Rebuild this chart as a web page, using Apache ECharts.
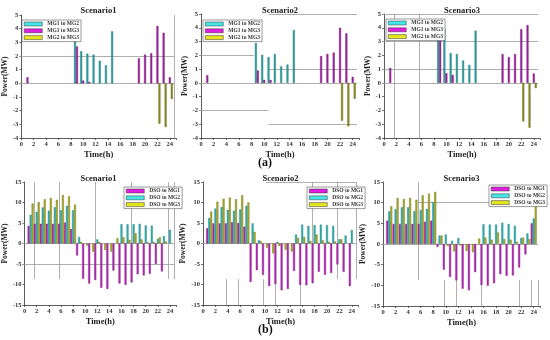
<!DOCTYPE html>
<html><head><meta charset="utf-8">
<script src="https://cdn.jsdelivr.net/npm/echarts@6/dist/echarts.min.js"></script>
<style>html,body{margin:0;padding:0;background:#fff}#c{width:550px;height:340px}</style>
</head><body><div id="c"></div>
<script>
// ---------- DATA ----------
const hours = [1,2,3,4,5,6,7,8,9,10,11,12,13,14,15,16,17,18,19,20,21,22,23,24];
const xTickLabels = [0,2,4,6,8,10,12,14,16,18,20,22,24];
const titles = ['Scenario1','Scenario2','Scenario3'];
const topNames = ['MG1 to MG2','MG1 to MG3','MG2 to MG3'];
const botNames = ['DSO to MG1','DSO to MG2','DSO to MG3'];
const topYTicks = [-4,-3,-2,-1,0,1,2,3,4,5];
const botYTicks = [-15,-10,-5,0,5,10,15];

// (a) Scenario1
const a1_MG1toMG2 = [null,null,null,null,null,null,null,null,3.7,2.35,2.17,2.1,1.65,1.32,3.8,null,null,null,null,null,null,null,null,null];
const a1_MG1toMG3 = [0.45,null,null,null,null,null,null,null,2.7,0.2,0.1,null,null,null,null,null,null,null,1.83,2.1,2.2,4.2,3.7,0.45];
const a1_MG2toMG3 = [null,null,null,null,null,null,null,null,null,null,null,null,null,null,null,null,null,null,null,null,null,-2.95,-3.2,-1.15];
// (a) Scenario2
const a2_MG1toMG2 = [null,null,null,null,null,null,null,null,2.9,2.04,1.87,2.09,1.2,1.33,3.83,null,null,null,null,null,null,null,null,null];
const a2_MG1toMG3 = [0.56,null,null,null,null,null,null,null,0.9,0.22,0.22,null,null,null,null,null,null,null,1.94,2.1,2.2,4.0,3.6,0.44];
const a2_MG2toMG3 = [null,null,null,null,null,null,null,null,null,null,null,null,null,null,null,null,null,null,null,null,null,-2.75,-3.15,-1.15];
// (a) Scenario3
const a3_MG1toMG2 = [null,null,null,null,null,null,null,null,3.9,3.98,2.16,2.09,1.63,1.3,3.79,null,null,null,null,null,null,null,null,null];
const a3_MG1toMG3 = [1.09,null,null,null,null,null,null,null,3.1,0.7,0.58,null,null,null,null,null,null,null,2.09,1.87,2.09,3.9,4.2,0.68];
const a3_MG2toMG3 = [null,null,null,null,null,null,null,null,null,null,null,null,null,null,null,null,null,null,null,null,null,-2.8,-3.25,-0.38];

// (b) Scenario1
const b1_DSOtoMG1 = [4.3,4.8,4.8,4.8,4.8,4.8,5.1,3.5,-2.9,-8.6,-9.75,-8.9,-10.8,-11.1,-6.6,-9.75,-10.1,-9.5,-7.5,-7.8,-7.4,-5.0,-6.8,null];
const b1_DSOtoMG2 = [7.0,7.7,8.8,8.0,8.85,8.1,9.2,8.1,1.6,null,null,1.0,null,null,null,4.7,4.7,4.7,4.8,4.4,4.35,1.15,1.8,3.35];
const b1_DSOtoMG3 = [9.75,10.1,10.8,11.1,10.65,11.8,11.5,9.5,0.4,-0.5,-2.0,0.4,-1.6,-2.0,1.3,1.55,0.9,2.5,1.0,0.3,0.4,1.5,0.5,null];
// (b) Scenario2
const b2_DSOtoMG1 = [3.7,4.9,4.9,4.9,5.2,5.0,4.1,-9.35,-6.5,-7.7,-10.4,-9.9,-11.4,-11.1,-6.7,-10.1,-10.2,-9.7,-6.9,-7.6,-7.2,-5.1,-6.9,-10.4];
const b2_DSOtoMG2 = [6.2,8.5,8.9,8.2,8.0,8.3,9.2,4.9,0.8,null,null,0.4,null,null,2.2,4.6,4.3,4.5,4.6,4.5,4.3,1.05,1.95,3.3];
const b2_DSOtoMG3 = [7.8,10.2,10.9,11.2,10.8,11.8,10.0,2.85,0.6,-1.0,-2.4,-0.65,-1.55,-1.95,1.4,1.6,0.65,2.2,0.8,0.4,0.5,1.05,null,null];
// (b) Scenario3
const b3_DSOtoMG1 = [5.65,4.85,4.85,4.85,4.85,4.85,5.4,5.65,-0.7,-6.2,-8.0,-8.8,-10.8,-11.2,-6.8,-9.9,-10.1,-9.5,-7.3,-7.7,-7.6,-5.7,-2.5,5.0];
const b3_DSOtoMG2 = [7.9,8.45,8.9,8.85,7.95,8.2,8.5,10.1,2.05,2.3,0.8,1.45,null,null,null,4.75,4.7,4.7,5.15,4.85,4.4,1.45,2.55,6.2];
const b3_DSOtoMG3 = [9.1,11.15,10.9,11.15,10.7,11.8,12.2,12.6,2.05,-0.5,-1.8,-0.35,-1.7,-2.0,1.3,1.55,1.05,2.8,1.2,1.05,0.55,1.55,1.2,9.8];

// faint guide lines visible in the original figure: [x1,y1,x2,y2]
const a1_guides = [[0,0,25,0],[0,2,25,2],[25,-4,25,5]];
const a2_guides = [[0,0,25,0],[11,5,25,5],[0,2,8.7,2],[11,1,25,1],[0,-2,11,-2],[11,-3,25,-3]];
const a3_guides = [[0,0,25,0],[0,5,25,5],[0,3,25,3],[0,1,25,1],[2,-4,2,5],[6,-4,6,5]];
const b1_guides = [[0,0,25,0],[0,-5,25,-5],[2,-8.7,2,15],[6,-8.7,6,15],[12,-8.7,12,15],[18,-8.7,18,15],[24,-8.7,24,15],[25,-8.7,25,15]];
const b2_guides = [[0,0,25,0],[10.5,15,25,15],[4,-15,4,-8.7],[6,-15,6,-8.7],[10,-15,10,-8.7],[12,-15,12,-8.7],[16,-15,16,-8.7],[18,-8.7,18,15],[22,-8.7,22,15],[25,-8.7,25,15]];
const b3_guides = [[0,0,25,0],[6,10,25,10],[6,-8.7,6,15],[10,-15,10,-8.7],[12,-15,12,-8.7],[16,-15,16,-8.7],[22,-15,22,-8.7],[24,-15,24,-8.7],[25,-15,25,-8.7]];

// ---------- LAYOUT / STYLE ----------
const SERIF = '"Liberation Serif","DejaVu Serif",serif';
const topColors = [
  {fill:'#2ea3a3', border:'#1d6f6f', legend:'#44e6e6'},
  {fill:'#a323a3', border:'#6c126c', legend:'#e01ee0'},
  {fill:'#8f8f22', border:'#5d5d12', legend:'#e6e61e'}];
const botColors = [
  {fill:'#b52ab5', border:'#7a167a', legend:'#e01ee0'},
  {fill:'#31b3b3', border:'#1f7a7a', legend:'#44e6e6'},
  {fill:'#abab2c', border:'#707014', legend:'#e6e61e'}];

const panels = [
  {grid:{left:21,top:15,width:155,height:123}, y:[-4,5,1], yt:topYTicks, names:topNames, colors:topColors, data:[a1_MG1toMG2,a1_MG1toMG3,a1_MG2toMG3], guides:a1_guides, title:titles[0], leg:{left:22,top:20}, ttop:6},
  {grid:{left:201,top:14,width:158,height:124}, y:[-4,5,1], yt:topYTicks, names:topNames, colors:topColors, data:[a2_MG1toMG2,a2_MG1toMG3,a2_MG2toMG3], guides:a2_guides, title:titles[1], leg:{left:203,top:20}, ttop:6},
  {grid:{left:384,top:14,width:156,height:124}, y:[-4,5,1], yt:topYTicks, names:topNames, colors:topColors, data:[a3_MG1toMG2,a3_MG1toMG3,a3_MG2toMG3], guides:a3_guides, title:titles[2], leg:{left:386,top:19}, ttop:6},
  {grid:{left:21,top:182,width:155,height:123}, y:[-15,15,5], yt:botYTicks, names:botNames, colors:botColors, data:[b1_DSOtoMG1,b1_DSOtoMG2,b1_DSOtoMG3], guides:b1_guides, title:titles[0], leg:{left:124,top:187}, ttop:174},
  {grid:{left:203,top:182,width:155,height:123}, y:[-15,15,5], yt:botYTicks, names:botNames, colors:botColors, data:[b2_DSOtoMG1,b2_DSOtoMG2,b2_DSOtoMG3], guides:b2_guides, title:titles[1], leg:{left:307,top:187}, ttop:174},
  {grid:{left:383,top:182,width:157,height:124}, y:[-15,15,5], yt:botYTicks, names:botNames, colors:botColors, data:[b3_DSOtoMG1,b3_DSOtoMG2,b3_DSOtoMG3], guides:b3_guides, title:titles[2], leg:{left:489,top:185}, ttop:174}
];

const grid=[], xAxis=[], yAxis=[], series=[], legend=[], title=[];
panels.forEach((p,i)=>{
  grid.push(Object.assign({containLabel:false}, p.grid));
  title.push({text:p.title, left:p.grid.left+p.grid.width/2, textAlign:'center', top:p.ttop, padding:0,
    textStyle:{fontFamily:SERIF, fontWeight:'bold', fontSize:8.5, color:'#222'}});
  xAxis.push({type:'value', gridIndex:i, min:0, max:25, interval:2,
    name:'Time(h)', nameLocation:'middle', nameGap:12,
    nameTextStyle:{fontFamily:SERIF, fontWeight:'bold', fontSize:8.5, color:'#222'},
    axisLine:{show:true, onZero:false, lineStyle:{color:'#333', width:0.8}},
    axisTick:{show:true, length:2, lineStyle:{color:'#333', width:0.7}},
    axisLabel:{margin:3, fontFamily:SERIF, fontWeight:'bold', fontSize:6.5, color:'#333',
      formatter:v=> xTickLabels.includes(v) ? String(v) : ''},
    splitLine:{show:false}});
  yAxis.push({type:'value', gridIndex:i, min:p.y[0], max:p.y[1], interval:p.y[2],
    name:'Power(MW)', nameLocation:'middle', nameGap:p.y[2]===1?12:15,
    nameTextStyle:{fontFamily:SERIF, fontWeight:'bold', fontSize:7.5, color:'#222'},
    axisLine:{show:true, onZero:false, lineStyle:{color:'#333', width:0.8}},
    axisTick:{show:true, length:2, lineStyle:{color:'#333', width:0.7}},
    axisLabel:{margin:3, fontFamily:SERIF, fontWeight:'bold', fontSize:6.5, color:'#333',
      formatter:v=> p.yt.includes(v) ? String(v) : ''},
    splitLine:{show:false}});
  p.names.forEach((n,k)=>{
    const arr = p.data[k];
    const d = [];
    hours.forEach((h,j)=>{ if(arr[j]!==null) d.push([h, arr[j]]); });
    const s = {type:'bar', name:n, xAxisIndex:i, yAxisIndex:i, data:d,
      barWidth:2, barGap:'0%', barCategoryGap:'0%',
      itemStyle:{color:p.colors[k].fill, borderColor:p.colors[k].border, borderWidth:0.4},
      emphasis:{disabled:true}, z:3};
    if(k===0){
      s.markLine = {silent:true, symbol:'none', label:{show:false}, animation:false, z:1,
        lineStyle:{color:'#9a9a9a', width:0.8, type:'solid'},
        data:p.guides.map(g=>[{coord:[g[0],g[1]]},{coord:[g[2],g[3]]}])};
    }
    series.push(s);
  });
  legend.push({left:p.leg.left, top:p.leg.top, orient:'vertical', selectedMode:false,
    backgroundColor:'#fff', borderColor:'#555', borderWidth:0.6, borderRadius:0,
    padding:[1,2,1,2], itemWidth:18, itemHeight:4, itemGap:0.8, itemTextGap:3,
    icon:'rect',
    textStyle:{fontFamily:SERIF, fontWeight:'bold', fontSize:5.5, color:'#333', lineHeight:5},
    data:p.names.map((n,k)=>({name:n, icon:'rect',
      itemStyle:{color:p.colors[k].legend, borderColor:'#333', borderWidth:0.5}}))});
});

const chart = echarts.init(document.getElementById('c'), null, {renderer:'canvas'});
chart.setOption({
  animation:false, backgroundColor:'#fff',
  title, grid, xAxis, yAxis, series, legend,
  graphic:[
    {type:'text', left:258, top:157, style:{text:'(a)', fontFamily:SERIF, fontWeight:'bold', fontSize:12, fill:'#111'}},
    {type:'text', left:258, top:324, style:{text:'(b)', fontFamily:SERIF, fontWeight:'bold', fontSize:12, fill:'#111'}}
  ]
});
</script></body></html>
